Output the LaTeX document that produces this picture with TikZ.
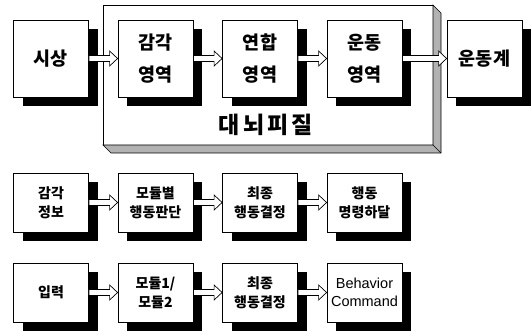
\documentclass[tikz,border=0pt]{standalone}
\usepackage{fontspec}
\newfontfamily\kr{Noto Sans CJK KR}
\newfontfamily\krsp[LetterSpace=14]{Noto Sans CJK KR}
\newfontfamily\lat{Liberation Sans}
\usetikzlibrary{shadows,calc}
\tikzset{
  box/.style={draw=black, line width=0.8pt, fill=white, minimum width=75pt,
    inner sep=0pt, align=center,
    drop shadow={shadow xshift=9pt, shadow yshift=-9pt, fill=black, opacity=1}},
  bigbox/.style={box, minimum height=77pt, font=\kr\bfseries\fontsize{18.5}{32}\selectfont},
  smallbox/.style={box, minimum height=59pt, font=\kr\bfseries\fontsize{14}{19}\selectfont},
  blockarrow/.style={draw=black, line width=0.7pt, fill=white},
  frame/.style={draw=black, line width=0.6pt, fill=white},
  bevel/.style={draw=black, line width=0.6pt, fill=gray!60},
}
\newcommand\blockarr[2]{%
  \draw[blockarrow] let \p1=(#1.east), \p2=(#2.west) in
    (\x1,\y1+3pt) -- (\x2-8pt,\y1+3pt) -- (\x2-8pt,\y1+7.5pt) -- (\x2,\y1)
    -- (\x2-8pt,\y1-7.5pt) -- (\x2-8pt,\y1-3pt) -- (\x1,\y1-3pt) -- cycle;}
\begin{document}
\begin{tikzpicture}[x=1pt,y=-1pt]
\useasboundingbox (0,0) rectangle (531,331);
% cortex frame
\draw[frame] (103,5) rectangle (433,145);
\draw[bevel] (433,5) -- (441,13) -- (441,153) -- (111,153) -- (103,145) -- (433,145) -- cycle;
\draw[line width=0.6pt] (433,145) -- (441,153);
\node[font=\krsp\bfseries\fontsize{23}{26}\selectfont] (cortex) at (266,125) {대뇌피질};
% top row
\node[bigbox] (a1) at (51,58.5) {시상};
\node[bigbox] (a2) at (155.5,58.5) {감각\\영역};
\node[bigbox] (a3) at (260,58.5) {연합\\영역};
\node[bigbox] (a4) at (364.5,58.5) {운동\\영역};
\node[bigbox] (a5) at (484.5,58.5) {운동계};
% second row
\node[smallbox] (b1) at (51,202.5) {감각\\정보};
\node[smallbox] (b2) at (155.5,202.5) {모듈별\\행동판단};
\node[smallbox] (b3) at (260,202.5) {최종\\행동결정};
\node[smallbox] (b4) at (364.5,202.5) {행동\\명령하달};
% third row
\node[smallbox] (c1) at (51,292.5) {입력};
\node[smallbox] (c2) at (155.5,292.5) {모듈1/\\모듈2};
\node[smallbox] (c3) at (260,292.5) {최종\\행동결정};
\node[smallbox, font=\lat\fontsize{14.5}{18}\selectfont] (c4) at (364.5,292.5) {Behavior\\Command};
% arrows
\blockarr{a1}{a2}
\blockarr{a2}{a3}
\blockarr{a3}{a4}
\blockarr{a4}{a5}
\blockarr{b1}{b2}
\blockarr{b2}{b3}
\blockarr{b3}{b4}
\blockarr{c1}{c2}
\blockarr{c2}{c3}
\blockarr{c3}{c4}
\end{tikzpicture}
\end{document}
